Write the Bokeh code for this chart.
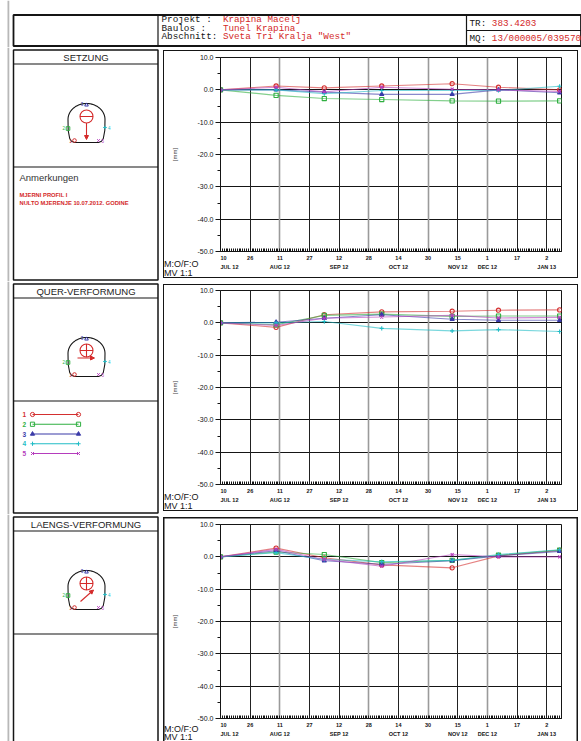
import numpy as np
from bokeh.plotting import figure
from bokeh.layouts import column, row
from bokeh.models import (Range1d, FixedTicker, LinearAxis, PrintfTickFormatter, Grid,
                          Arrow, NormalHead)
from bokeh.core.properties import value
from bokeh.embed import file_html
from bokeh.resources import INLINE

# ------------------------------------------------------------------ data
dates = ["2012-07-10", "2012-08-09", "2012-09-04", "2012-10-05",
         "2012-11-12", "2012-12-07", "2013-01-09"]

# SETZUNG [mm]
setzung_1 = [0.0, 1.2, 0.6, 1.2, 1.9, 0.8, 0.0]
setzung_2 = [0.0, -1.7, -2.7, -3.0, -3.4, -3.5, -3.4]
setzung_3 = [0.0, 0.0, -0.7, -1.4, -1.4, 0.0, -0.9]
setzung_4 = [0.0, 0.0, -1.2, -0.2, -0.2, -0.2, 1.1]
setzung_5 = [0.0, 0.8, -0.6, 0.8, 0.2, 0.0, -0.5]

# QUER-VERFORMUNG [mm]
quer_1 = [0.0, -1.4, 2.5, 3.4, 3.6, 3.9, 4.0]
quer_2 = [0.0, -0.6, 2.3, 2.7, 2.0, 2.1, 2.1]
quer_3 = [0.0, 0.2, 1.4, 2.5, 1.1, 0.8, 0.8]
quer_4 = [0.0, 0.0, 0.4, -1.7, -2.5, -2.1, -2.7]
quer_5 = [0.0, -0.8, 1.4, 1.8, 2.3, 1.5, 1.7]

# LAENGS-VERFORMUNG [mm]
laengs_1 = [0.0, 2.7, -0.3, -2.5, -3.4, 0.3, 2.0]
laengs_2 = [0.0, 1.5, 0.7, -1.8, -1.1, 0.5, 2.1]
laengs_3 = [0.0, 1.9, -1.2, -2.3, -1.2, 0.3, 1.7]
laengs_4 = [0.0, 1.3, -0.8, -1.5, -1.1, 0.7, 2.2]
laengs_5 = [0.0, 2.3, -0.8, -2.9, 0.7, 0.0, 0.0]

series_labels = ["1", "2", "3", "4", "5"]
series_colors = ["#d42f2f", "#2faf40", "#3a3aa8", "#22bcc6", "#b53dbd"]
series_markers = ["circle", "square", "triangle", "cross", "x"]

tick_dates = ["2012-07-10", "2012-07-26", "2012-08-11", "2012-08-27", "2012-09-12",
              "2012-09-28", "2012-10-14", "2012-10-30", "2012-11-15", "2012-12-01",
              "2012-12-17", "2013-01-02"]
tick_labels = ["10", "26", "11", "27", "12", "28", "14", "30", "15", "1", "17", "2"]
month_dates = ["2012-07-10", "2012-08-11", "2012-09-12", "2012-10-14",
               "2012-11-15", "2012-12-01", "2013-01-02"]
month_labels = ["JUL 12", "AUG 12", "SEP 12", "OCT 12", "NOV 12", "DEC 12", "JAN 13"]
grey_grid_dates = ["2012-08-11", "2012-09-28", "2012-10-30", "2012-12-01"]
x_start, x_end = "2012-07-10", "2013-01-10"

y_ticks = [-50, -40, -30, -20, -10, 0, 10]
y_minor_ticks = [-45, -35, -25, -15, -5, 5]

header_keys = ["Projekt  :", "Baulos   :", "Abschnitt:"]
header_values = ["Krapina Macelj", "Tunel Krapina", "Sveta Tri Kralja \"West\""]
tr_key, tr_value = "TR:", "383.4203"
mq_key, mq_value = "MQ:", "13/000005/039570"
remarks = ["MJERNI PROFIL I", "NULTO MJERENJE 10.07.2012. GODINE"]
scale_notes = ["M:O/F:O", "MV 1:1"]

# ------------------------------------------------------------------ helpers
BLACK = "#151515"
RED = "#d42a2a"
MONO = value("Liberation Mono")
SANS = value("Liberation Sans")
SANS_S = "Liberation Sans"


def ms(d):
    return float((np.datetime64(d, "D") - np.datetime64("1970-01-01", "D")).astype(np.int64) * 86400000)


def txt(p, x, y, t, size, color=BLACK, font=SANS, align="left", style="normal"):
    p.text(x=[x], y=[y], text=[t], text_font=font, text_font_size=value(size),
           text_color=color, text_align=align, text_baseline="middle", text_font_style=style)


def blank_fig(w, h, edge=True, fill="white"):
    p = figure(width=w, height=h, x_range=Range1d(0, w), y_range=Range1d(h, 0), title=None,
               toolbar_location=None, output_backend="svg", min_border=0,
               x_axis_location=None, y_axis_location=None, outline_line_color=None,
               background_fill_color=fill, border_fill_color=fill)
    p.grid.visible = False
    if edge:
        p.quad(left=7, right=8.8, top=0, bottom=h, fill_color="#b8b8b8", line_color=None)
    return p


def tunnel_icon(p, kind):
    cx, top, bottom = 86.0, 56.0, 95.0
    rx, ry = 18.5, 16.0
    cy = top + ry
    ang = np.linspace(np.pi, 0, 40)
    xs = [cx - 12, cx - 15, cx - 16.8, cx - 18.3] + list(cx + rx * np.cos(ang)) + \
         [cx + 18.3, cx + 16.8, cx + 15, cx + 12, cx - 12]
    ys = [bottom, bottom - 1.2, bottom - 4, bottom - 12] + list(cy - ry * np.sin(ang)) + \
         [bottom - 12, bottom - 4, bottom - 1.2, bottom, bottom]
    p.line(xs, ys, line_color=BLACK, line_width=1.1)
    ccx, ccy, r = 86.0, 69.0, 6.5
    p.circle(x=[ccx], y=[ccy], radius=r, fill_color=None, line_color=RED, line_width=1.1)
    p.segment(ccx - r, ccy, ccx + r, ccy, line_color=RED, line_width=1.1)
    if kind != "setz":
        p.segment(ccx, ccy - r, ccx, ccy + r, line_color=RED, line_width=1.1)
    if kind == "setz":
        a = (ccx, ccy + r, ccx, 92.0)
    elif kind == "quer":
        a = (77.0, 76.5, 94.0, 76.5)
    else:
        a = (80.0, 87.0, 93.0, 75.5)
    p.add_layout(Arrow(x_start=a[0], y_start=a[1], x_end=a[2], y_end=a[3],
                       line_color=RED, line_width=1.1,
                       end=NormalHead(size=4, fill_color=RED, line_color=RED)))
    pts = [(74.0, 93.0, 70.0, 93.0), (67.5, 81.0, 63.3, 80.5), (86.0, 57.5, 81.5, 56.5),
           (104.5, 80.0, 108.8, 80.0), (98.0, 93.0, 102.2, 93.0)]
    for i, (mx, my, lx, ly) in enumerate(pts):
        p.scatter(x=[mx], y=[my], marker=series_markers[i], size=3.6,
                  line_color=series_colors[i], fill_color=None, line_width=1)
        txt(p, lx, ly, series_labels[i], "4.5px", color=series_colors[i], align="center")


def left_panel(h, title, kind, box_bottom):
    p = blank_fig(160, h)
    p.quad(left=13, right=157.5, top=2.5, bottom=box_bottom, fill_color=None,
           line_color=BLACK, line_width=1.5)
    p.segment(13, 16.5, 157.5, 16.5, line_color=BLACK, line_width=1.2)
    p.segment(13, 119.5, 157.5, 119.5, line_color=BLACK, line_width=1.2)
    txt(p, 85.5, 10, title, "9.5px", color="#222", align="center")
    tunnel_icon(p, kind)
    return p


def chart_block(h, top, series, last=False):
    fb = top + 194          # frame bottom inside the block
    b1 = 3
    h_main = fb + b1
    h_foot = h - h_main
    x_ticks = [ms(d) for d in tick_dates]
    day_ticks = [ms(x_start) + 86400000.0 * i for i in range(0, 185)]

    p = figure(width=421, height=h_main, x_axis_type="datetime",
               x_range=Range1d(ms(x_start), ms(x_end)), y_range=Range1d(-50, 10),
               title=None, toolbar_location=None, output_backend="svg",
               min_border_left=60, min_border_right=20, min_border_top=top,
               min_border_bottom=b1,
               background_fill_color="white", border_fill_color=None,
               outline_line_color=BLACK, outline_line_width=1)
    xa = p.xaxis[0]
    xa.ticker = FixedTicker(ticks=[], minor_ticks=day_ticks)
    xa.major_tick_in = 0
    xa.major_tick_out = 0
    xa.minor_tick_in = 3
    xa.minor_tick_out = 0
    xa.minor_tick_line_color = BLACK
    xa.axis_line_color = BLACK
    xa.major_label_standoff = 0

    ya = p.yaxis[0]
    ya.ticker = FixedTicker(ticks=y_ticks, minor_ticks=y_minor_ticks)
    ya.formatter = PrintfTickFormatter(format="%.1f")
    ya.major_tick_in = 0
    ya.major_tick_out = 5
    ya.minor_tick_in = 0
    ya.minor_tick_out = 3
    ya.axis_line_color = BLACK
    ya.major_tick_line_color = BLACK
    ya.minor_tick_line_color = BLACK
    ya.major_label_standoff = 2
    ya.major_label_text_font = SANS_S
    ya.major_label_text_font_size = "7px"
    ya.major_label_text_color = BLACK
    ya.axis_label = "[mm]"
    ya.axis_label_text_font = SANS_S
    ya.axis_label_text_font_size = "6px"
    ya.axis_label_text_font_style = "normal"
    ya.axis_label_standoff = 17

    p.xgrid.visible = False
    p.ygrid.grid_line_color = BLACK
    p.ygrid.grid_line_width = 1
    dark = [ms(d) for d in tick_dates[1:] if d not in grey_grid_dates]
    grey = [ms(d) for d in grey_grid_dates]
    p.add_layout(Grid(dimension=0, ticker=FixedTicker(ticks=dark), grid_line_color="#222222",
                      grid_line_width=1))
    p.add_layout(Grid(dimension=0, ticker=FixedTicker(ticks=grey), grid_line_color="#9a9a9a",
                      grid_line_width=1.6))

    xs = [ms(d) for d in dates]
    for i, ys in enumerate(series):
        c = series_colors[i]
        p.line(xs, ys, line_color=c, line_width=1.1, line_alpha=0.6)
        p.scatter(xs, ys, marker=series_markers[i], size=4.2, line_color=c,
                  fill_color=c if series_markers[i] == "triangle" else None, line_width=1.1)

    # foot: scale notes (left) + date labels (right)
    corner = blank_fig(60, h_foot, edge=False, fill=None)
    ny = [7.5, 15.5] if last else [9, 18]
    for t, yy in zip(scale_notes, ny):
        txt(corner, 3.5, yy, t, "9px")

    af = figure(width=361, height=h_foot, x_axis_type="datetime",
                x_range=Range1d(ms(x_start), ms(x_end)), y_range=Range1d(0, 1),
                title=None, toolbar_location=None, output_backend="svg",
                min_border_left=0, min_border_right=20, min_border_top=0,
                min_border_bottom=h_foot - 1, y_axis_location=None,
                background_fill_color=None, border_fill_color=None, outline_line_color=None)
    af.grid.visible = False
    da = af.xaxis[0]
    da.ticker = FixedTicker(ticks=x_ticks)
    da.major_label_overrides = {t: l for t, l in zip(x_ticks, tick_labels)}
    da.axis_line_color = None
    da.major_tick_line_color = None
    da.minor_tick_line_color = None
    da.major_tick_in = 0
    da.major_tick_out = 0
    da.minor_tick_in = 0
    da.minor_tick_out = 0
    da.major_label_standoff = 0
    da.major_label_text_font = SANS_S
    da.major_label_text_font_size = "5.5px"
    da.major_label_text_font_style = "bold"
    da.major_label_text_color = BLACK

    m_ticks = [ms(d) for d in month_dates]
    ma = LinearAxis(ticker=FixedTicker(ticks=m_ticks),
                    major_label_overrides={t: l for t, l in zip(m_ticks, month_labels)},
                    axis_line_color=None, major_tick_line_color=None, minor_tick_line_color=None,
                    major_tick_in=0, major_tick_out=0, minor_tick_in=0, minor_tick_out=0,
                    major_label_standoff=1, major_label_text_font=SANS_S,
                    major_label_text_font_size="5.5px", major_label_text_font_style="bold",
                    major_label_text_color=BLACK)
    af.add_layout(ma, "below")

    foot = row(column(corner, spacing=0), column(af, spacing=0), spacing=0)
    if last:
        # box continues past the bottom of the page: draw only top, left and right edges
        st = {"background-color": "white",
              "box-shadow": ("inset 3px 0 0 0 white, inset -3px 0 0 0 white, "
                             "inset 0 3px 0 0 white, "
                             "inset 4.5px 0 0 0 #151515, inset -4.5px 0 0 0 #151515, "
                             "inset 0 4.5px 0 0 #151515")}
    else:
        st = {"outline": "1.5px solid #151515", "outline-offset": "-4.5px",
              "background-color": "white"}
    return column(p, foot, spacing=0, styles=st)


# ------------------------------------------------------------------ header
hd = blank_fig(581, 47)
hd.quad(left=13, right=580.5, top=14.5, bottom=45.5, fill_color=None, line_color=BLACK, line_width=1.8)
hd.segment(157.5, 14.5, 157.5, 45.5, line_color=BLACK, line_width=1.2)
hd.segment(466, 14.5, 466, 45.5, line_color=BLACK, line_width=1.2)
hd.segment(466, 30, 580.5, 30, line_color=BLACK, line_width=1.2)
cw = 0.6 * 9.3
for k, (key, val) in enumerate(zip(header_keys, header_values)):
    y = 19 + 8.5 * k
    txt(hd, 161, y, key, "9.3px", font=MONO)
    txt(hd, 161 + 11 * cw, y, val, "9.3px", color=RED, font=MONO)
txt(hd, 469, 22.5, tr_key, "9.3px", font=MONO)
txt(hd, 469 + 4 * cw, 22.5, tr_value, "9.3px", color=RED, font=MONO)
txt(hd, 469, 38, mq_key, "9.3px", font=MONO)
txt(hd, 469 + 4 * cw, 38, mq_value, "9.3px", color=RED, font=MONO)

# ------------------------------------------------------------------ panels
h1, h2, h3 = 234, 233, 227

l1 = left_panel(h1, "SETZUNG", "setz", h1 - 1.5)
txt(l1, 19, 130, "Anmerkungen", "9.5px", color="#333")
for k, t in enumerate(remarks):
    txt(l1, 19, 147 + 8 * k, t, "5.8px", color=RED, style="bold")

l2 = left_panel(h2, "QUER-VERFORMUNG", "quer", h2 - 1.5)
for i in range(5):
    y = 133 + 9.75 * i
    c = series_colors[i]
    txt(l2, 23.7, y, series_labels[i], "6.5px", color=c, align="center", style="bold")
    l2.segment(32, y, 78, y, line_color=c, line_width=1.1)
    l2.scatter(x=[32, 78], y=[y, y], marker=series_markers[i], size=4.2, line_color=c,
               fill_color=c if series_markers[i] == "triangle" else None, line_width=1)

l3 = left_panel(h3, "LAENGS-VERFORMUNG", "laengs", h3 + 6)

b1 = chart_block(h1, 10, [setzung_1, setzung_2, setzung_3, setzung_4, setzung_5])
b2 = chart_block(h2, 9, [quer_1, quer_2, quer_3, quer_4, quer_5])
b3 = chart_block(h3, 10, [laengs_1, laengs_2, laengs_3, laengs_4, laengs_5], last=True)

page = column(hd, row(l1, b1, spacing=0), row(l2, b2, spacing=0), row(l3, b3, spacing=0),
              spacing=0)

open("out.html", "w").write(file_html(page, INLINE))
